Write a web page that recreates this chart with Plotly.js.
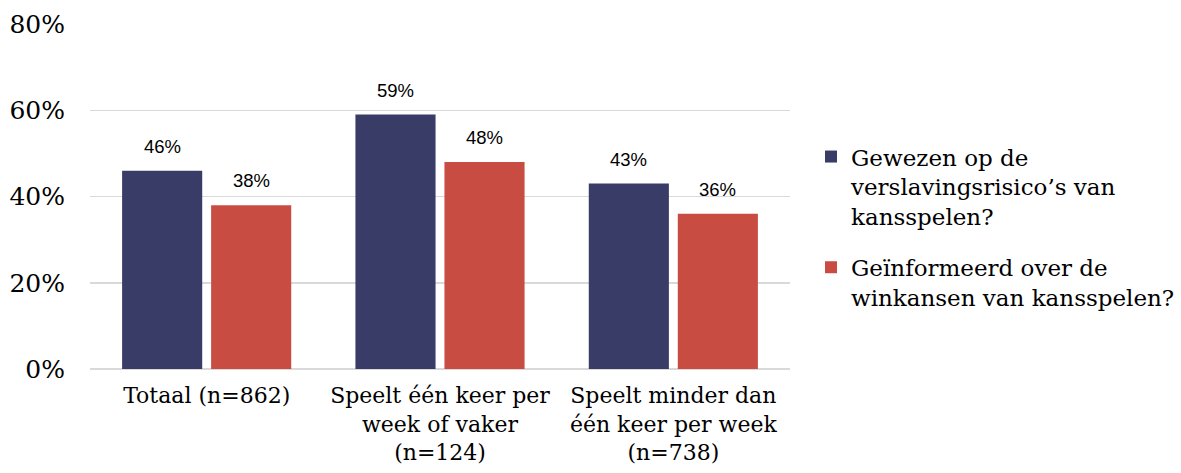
<!DOCTYPE html>
<html>
<head>
<meta charset="utf-8">
<script src="https://cdn.plot.ly/plotly-3.0.1.min.js"></script>
<style>html,body{margin:0;padding:0;background:#fff;}#chart{width:1181px;height:473px;}</style>
</head>
<body>
<div id="chart"></div>
<script>
const categories = ["Totaal (n=862)", "Speelt één keer per<br>week of vaker<br>(n=124)", "Speelt minder dan<br>één keer per week<br>(n=738)"];
const seriesNames = ["Gewezen op de<br>verslavingsrisico’s van<br>kansspelen?", "Geïnformeerd over de<br>winkansen van kansspelen?"];
const risico = [46, 59, 43];
const winkansen = [38, 48, 36];
const yTicks = [0, 20, 40, 60, 80];
const yTickLabels = ["0%", "20%", "40%", "60%", "80%"];

const colors = ["#383c66", "#c94c43"];
const serif = "DejaVu Serif, serif";
const sans = "Liberation Sans, Arial, sans-serif";

const traces = [risico, winkansen].map((vals, i) => ({
  type: "bar",
  name: seriesNames[i],
  legendgroup: "g" + i,
  x: categories,
  y: vals,
  marker: {color: colors[i]},
  hoverinfo: "skip"
}));

const annotations = [];
[risico, winkansen].forEach((vals, i) => {
  vals.forEach((v, j) => {
    annotations.push({
      x: categories[j], y: v, xref: "x", yref: "y",
      text: v + "%", showarrow: false,
      xshift: (i === 0 ? -44.5 : 44.5), yshift: 12, yanchor: "bottom",
      font: {family: sans, size: 18.5, color: "#000"}
    });
  });
});

const layout = {
  width: 1181, height: 473,
  margin: {l: 90, r: 391, t: 24, b: 104, autoexpand: false},
  paper_bgcolor: "#fff", plot_bgcolor: "#fff",
  barmode: "group", bargap: 0.237, bargroupgap: 0.1,
  showlegend: true,
  legend: {x: 1.03, xanchor: "left", y: 0.678, yanchor: "top", valign: "top",
           font: {family: serif, size: 23, color: "#000"},
           tracegroupgap: 18, itemwidth: 30},
  xaxis: {tickfont: {family: serif, size: 22, color: "#000"}, showgrid: false,
          showline: false, zeroline: false, ticks: "", ticklabelstandoff: 11, fixedrange: true},
  yaxis: {range: [0, 80], tickvals: yTicks, ticktext: yTickLabels,
          tickfont: {family: serif, size: 25, color: "#000"},
          showgrid: true, gridcolor: "#d9d9d9", gridwidth: 1.5,
          zeroline: true, zerolinecolor: "#d9d9d9", zerolinewidth: 1.5,
          showline: false, ticks: "", ticklabelstandoff: 24, fixedrange: true},
  annotations: annotations
};

Plotly.newPlot("chart", traces, layout, {displayModeBar: false, staticPlot: true});
</script>
</body>
</html>
